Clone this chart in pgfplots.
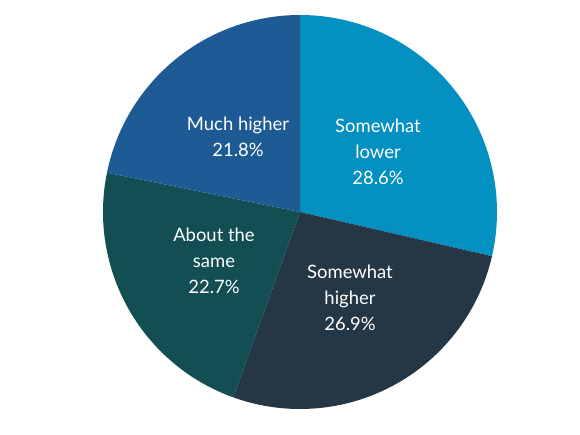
\documentclass[border=0pt]{standalone}
\usepackage{pgfplots}
\pgfplotsset{compat=1.18}
\usepackage{pgfplotstable}
\usepackage{fontspec}
\setmainfont{Lato}
\definecolor{cLower}{RGB}{4,144,192}
\definecolor{cHigher}{RGB}{37,54,69}
\definecolor{cSame}{RGB}{18,78,82}
\definecolor{cMuch}{RGB}{30,90,148}
% start angle, end angle (clockwise from top), percent
\pgfplotstableread{
label start end pct
lower 90 -12.96 28.6
higher -12.96 -109.8 26.9
same -109.8 -191.52 22.7
much -191.52 -270 21.8
}\slices
\begin{document}
\begin{tikzpicture}
\useasboundingbox (0,0) rectangle (580bp,435bp);
\begin{axis}[
  at={(300bp,223bp)}, anchor=center,
  scale only axis, width=400bp, height=400bp,
  xmin=-200, xmax=200, ymin=-200, ymax=200,
  hide axis, clip=false,
]
\foreach \i/\c in {0/cLower,1/cHigher,2/cSame,3/cMuch}{
  \pgfplotstablegetelem{\i}{start}\of\slices \let\sa\pgfplotsretval
  \pgfplotstablegetelem{\i}{end}\of\slices \let\ea\pgfplotsretval
  \edef\tmp{\noexpand\fill[\c] (axis cs:0,0) -- ({197*cos(\sa)},{197*sin(\sa)}) arc[start angle=\sa, end angle=\ea, radius=197] -- cycle;}
  \tmp
}
\tikzset{lbl/.style={white, align=center, font=\fontsize{18.5}{26}\selectfont}}
\node[lbl] at (axis cs:78,60) {Somewhat\\lower\\28.6\%};
\node[lbl] at (axis cs:50,-86) {Somewhat\\higher\\26.9\%};
\node[lbl] at (axis cs:-86,-49) {About the\\same\\22.7\%};
\node[lbl] at (axis cs:-62,75) {Much higher\\21.8\%};
\end{axis}
\end{tikzpicture}
\end{document}
